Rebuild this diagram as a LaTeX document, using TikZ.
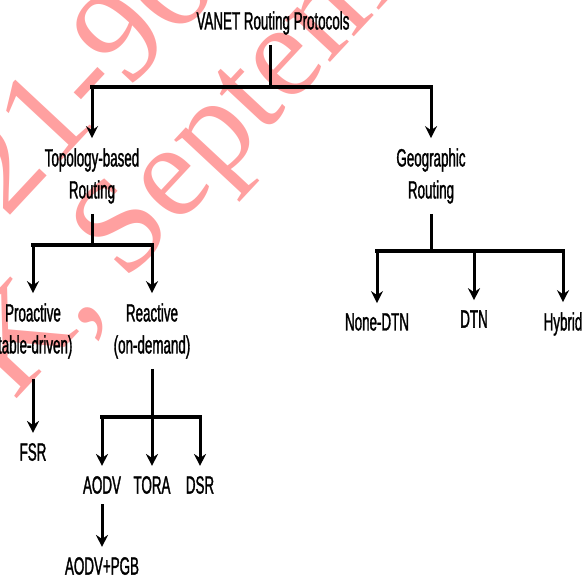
\documentclass[tikz,border=0pt]{standalone}
\usepackage{fontspec}
\usetikzlibrary{arrows.meta}
\newfontfamily\diagfont[FakeStretch=0.535, FakeBold=1.2]{Liberation Sans}
\newfontfamily\markfont{Liberation Serif}
\definecolor{markred}{RGB}{255,160,160}

\tikzset{
    lbl/.style={font=\diagfont\fontsize{25}{32}\selectfont, align=center, inner xsep=0pt, inner ysep=10pt},
    stem/.style={line width=3pt},
    bar/.style={line width=4.5pt, line cap=rect},
    arr/.style={line width=3pt, -{Stealth[length=12pt,width=12pt,inset=4pt]}},
    wmark/.style={font=\markfont\fontsize{134}{134}\selectfont, text=markred, rotate=47, anchor=base west, inner sep=0pt}
}

\begin{document}
\begin{tikzpicture}[x=1pt, y=-1pt]
    \useasboundingbox (0,0) rectangle (588,577);
    \clip (0,0) rectangle (588,577);
    % watermark
    \node[wmark] (wm1) at (-85,318) {2321-9653};
    \node[wmark] (wm2) at (14,402) {K, September};

    \node[lbl] (vanet) at (273,23) {VANET Routing Protocols};
    \node[lbl] (topo) at (92,176) {Topology-based\\Routing};
    \node[lbl] (geo) at (431,176) {Geographic\\Routing};
    \node[lbl] (pro) at (33,331) {Proactive\\(table-driven)};
    \node[lbl] (rea) at (152,331) {Reactive\\(on-demand)};
    \node[lbl] (fsr) at (33,452) {FSR};
    \node[lbl] (aodv) at (102,485) {AODV};
    \node[lbl] (tora) at (152,485) {TORA};
    \node[lbl] (dsr) at (200,485) {DSR};
    \node[lbl] (pgb) at (102,566) {AODV+PGB};
    \node[lbl] (ndtn) at (377,322) {None-DTN};
    \node[lbl] (dtn) at (474,319) {DTN};
    \node[lbl] (hyb) at (563,324) {Hybrid};

    % branch bars
    \coordinate (b0) at (270,87);
    \coordinate (b1) at (92,245);
    \coordinate (b2) at (152,417);
    \coordinate (b3) at (430,251);

    \draw[stem] (b0 |- vanet.south) -- (b0);
    \draw[bar] (topo |- b0) -- (geo |- b0);
    \draw[arr] (topo |- b0) -- (topo.north);
    \draw[arr] (geo |- b0) -- (geo.north);

    \draw[stem] (topo.south) -- (topo |- b1);
    \draw[bar] (pro |- b1) -- (rea |- b1);
    \draw[arr] (pro |- b1) -- (pro.north);
    \draw[arr] (rea |- b1) -- (rea.north);
    \draw[arr, shorten <=10pt] (pro.south) -- (fsr.north);

    \draw[stem] (rea.south) -- (rea |- b2);
    \draw[bar] (aodv |- b2) -- (dsr |- b2);
    \draw[arr] (aodv |- b2) -- (aodv.north);
    \draw[arr] (tora |- b2) -- (tora.north);
    \draw[arr] (dsr |- b2) -- (dsr.north);
    \draw[arr] (aodv.south) -- (pgb.north);

    \draw[stem] (geo.south) -- (geo |- b3);
    \draw[bar] (ndtn |- b3) -- (hyb |- b3);
    \draw[arr] (ndtn |- b3) -- (ndtn.north);
    \draw[arr] (dtn |- b3) -- (dtn.north);
    \draw[arr] (hyb |- b3) -- (hyb.north);
\end{tikzpicture}
\end{document}
